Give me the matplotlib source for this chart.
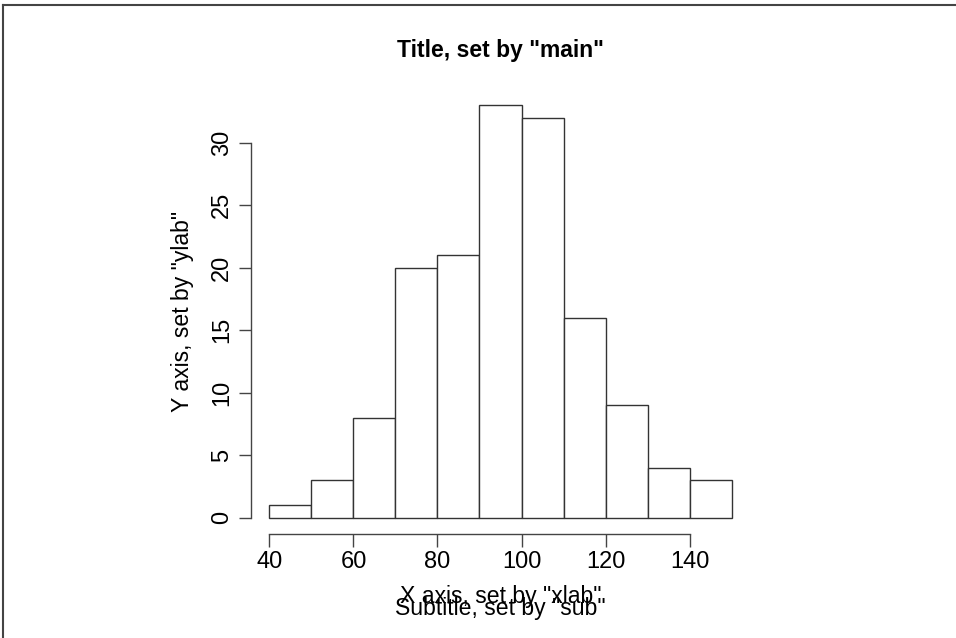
import matplotlib
matplotlib.use('Agg')
import matplotlib.pyplot as plt
from matplotlib.lines import Line2D

plt.rcParams['font.family'] = ['Liberation Sans', 'DejaVu Sans']

# histogram bins and counts
bin_edges = [40, 50, 60, 70, 80, 90, 100, 110, 120, 130, 140, 150]
counts = [1, 3, 8, 20, 21, 33, 32, 16, 9, 4, 3]
x_ticks = [40, 60, 80, 100, 120, 140]
y_ticks = [0, 5, 10, 15, 20, 25, 30]

W, H = 956, 638
fig = plt.figure(figsize=(W / 100, H / 100), dpi=100, facecolor='w')

# plot region in pixels (R style, 4% padding around the data range)
left, right, top, bottom = 251, 750, 89, 534
ax = fig.add_axes([left / W, 1 - bottom / H, (right - left) / W, (bottom - top) / H])

widths = [b - a for a, b in zip(bin_edges[:-1], bin_edges[1:])]
ax.bar(bin_edges[:-1], counts, width=widths, align='edge',
       facecolor='white', edgecolor='#333333', linewidth=1.0)

xpad = 0.04 * (bin_edges[-1] - bin_edges[0])
ypad = 0.04 * max(counts)
ax.set_xlim(bin_edges[0] - xpad, bin_edges[-1] + xpad)
ax.set_ylim(-ypad, max(counts) + ypad)

for s in ['top', 'right']:
    ax.spines[s].set_visible(False)
ax.spines['left'].set_bounds(y_ticks[0], y_ticks[-1])
ax.spines['bottom'].set_bounds(x_ticks[0], x_ticks[-1])
for s in ['left', 'bottom']:
    ax.spines[s].set_color('#444444')
    ax.spines[s].set_linewidth(1.0)

ax.set_xticks(x_ticks)
ax.set_yticks(y_ticks)
ax.set_yticklabels([str(v) for v in y_ticks], rotation=90, va='center')
ax.tick_params(axis='both', length=9, width=1.0, color='#444444',
               labelsize=17, pad=3)
ax.tick_params(axis='y', pad=4)

cx = 0.5 * (left + right) / W
fig.text(cx, 1 - 50 / H, 'Title, set by "main"',
         ha='center', va='center', fontsize=16.5, fontweight='bold')
fig.text(cx, 1 - 596 / H, 'X axis, set by "xlab"',
         ha='center', va='center', fontsize=16.6)
fig.text(cx, 1 - 609 / H, 'Subtitle, set by "sub"',
         ha='center', va='center', fontsize=16.6)
fig.text(183 / W, 1 - 0.5 * (top + bottom) / H, 'Y axis, set by "ylab"',
         ha='center', va='center', rotation=90, fontsize=16.6)

# thin frame on top and left edges of the image
fig.add_artist(Line2D([3 / W, 1], [1 - 5 / H, 1 - 5 / H], color='#444444', lw=1.5))
fig.add_artist(Line2D([3 / W, 3 / W], [0, 1 - 5 / H], color='#444444', lw=1.5))

fig.savefig('out.png', dpi=100)
